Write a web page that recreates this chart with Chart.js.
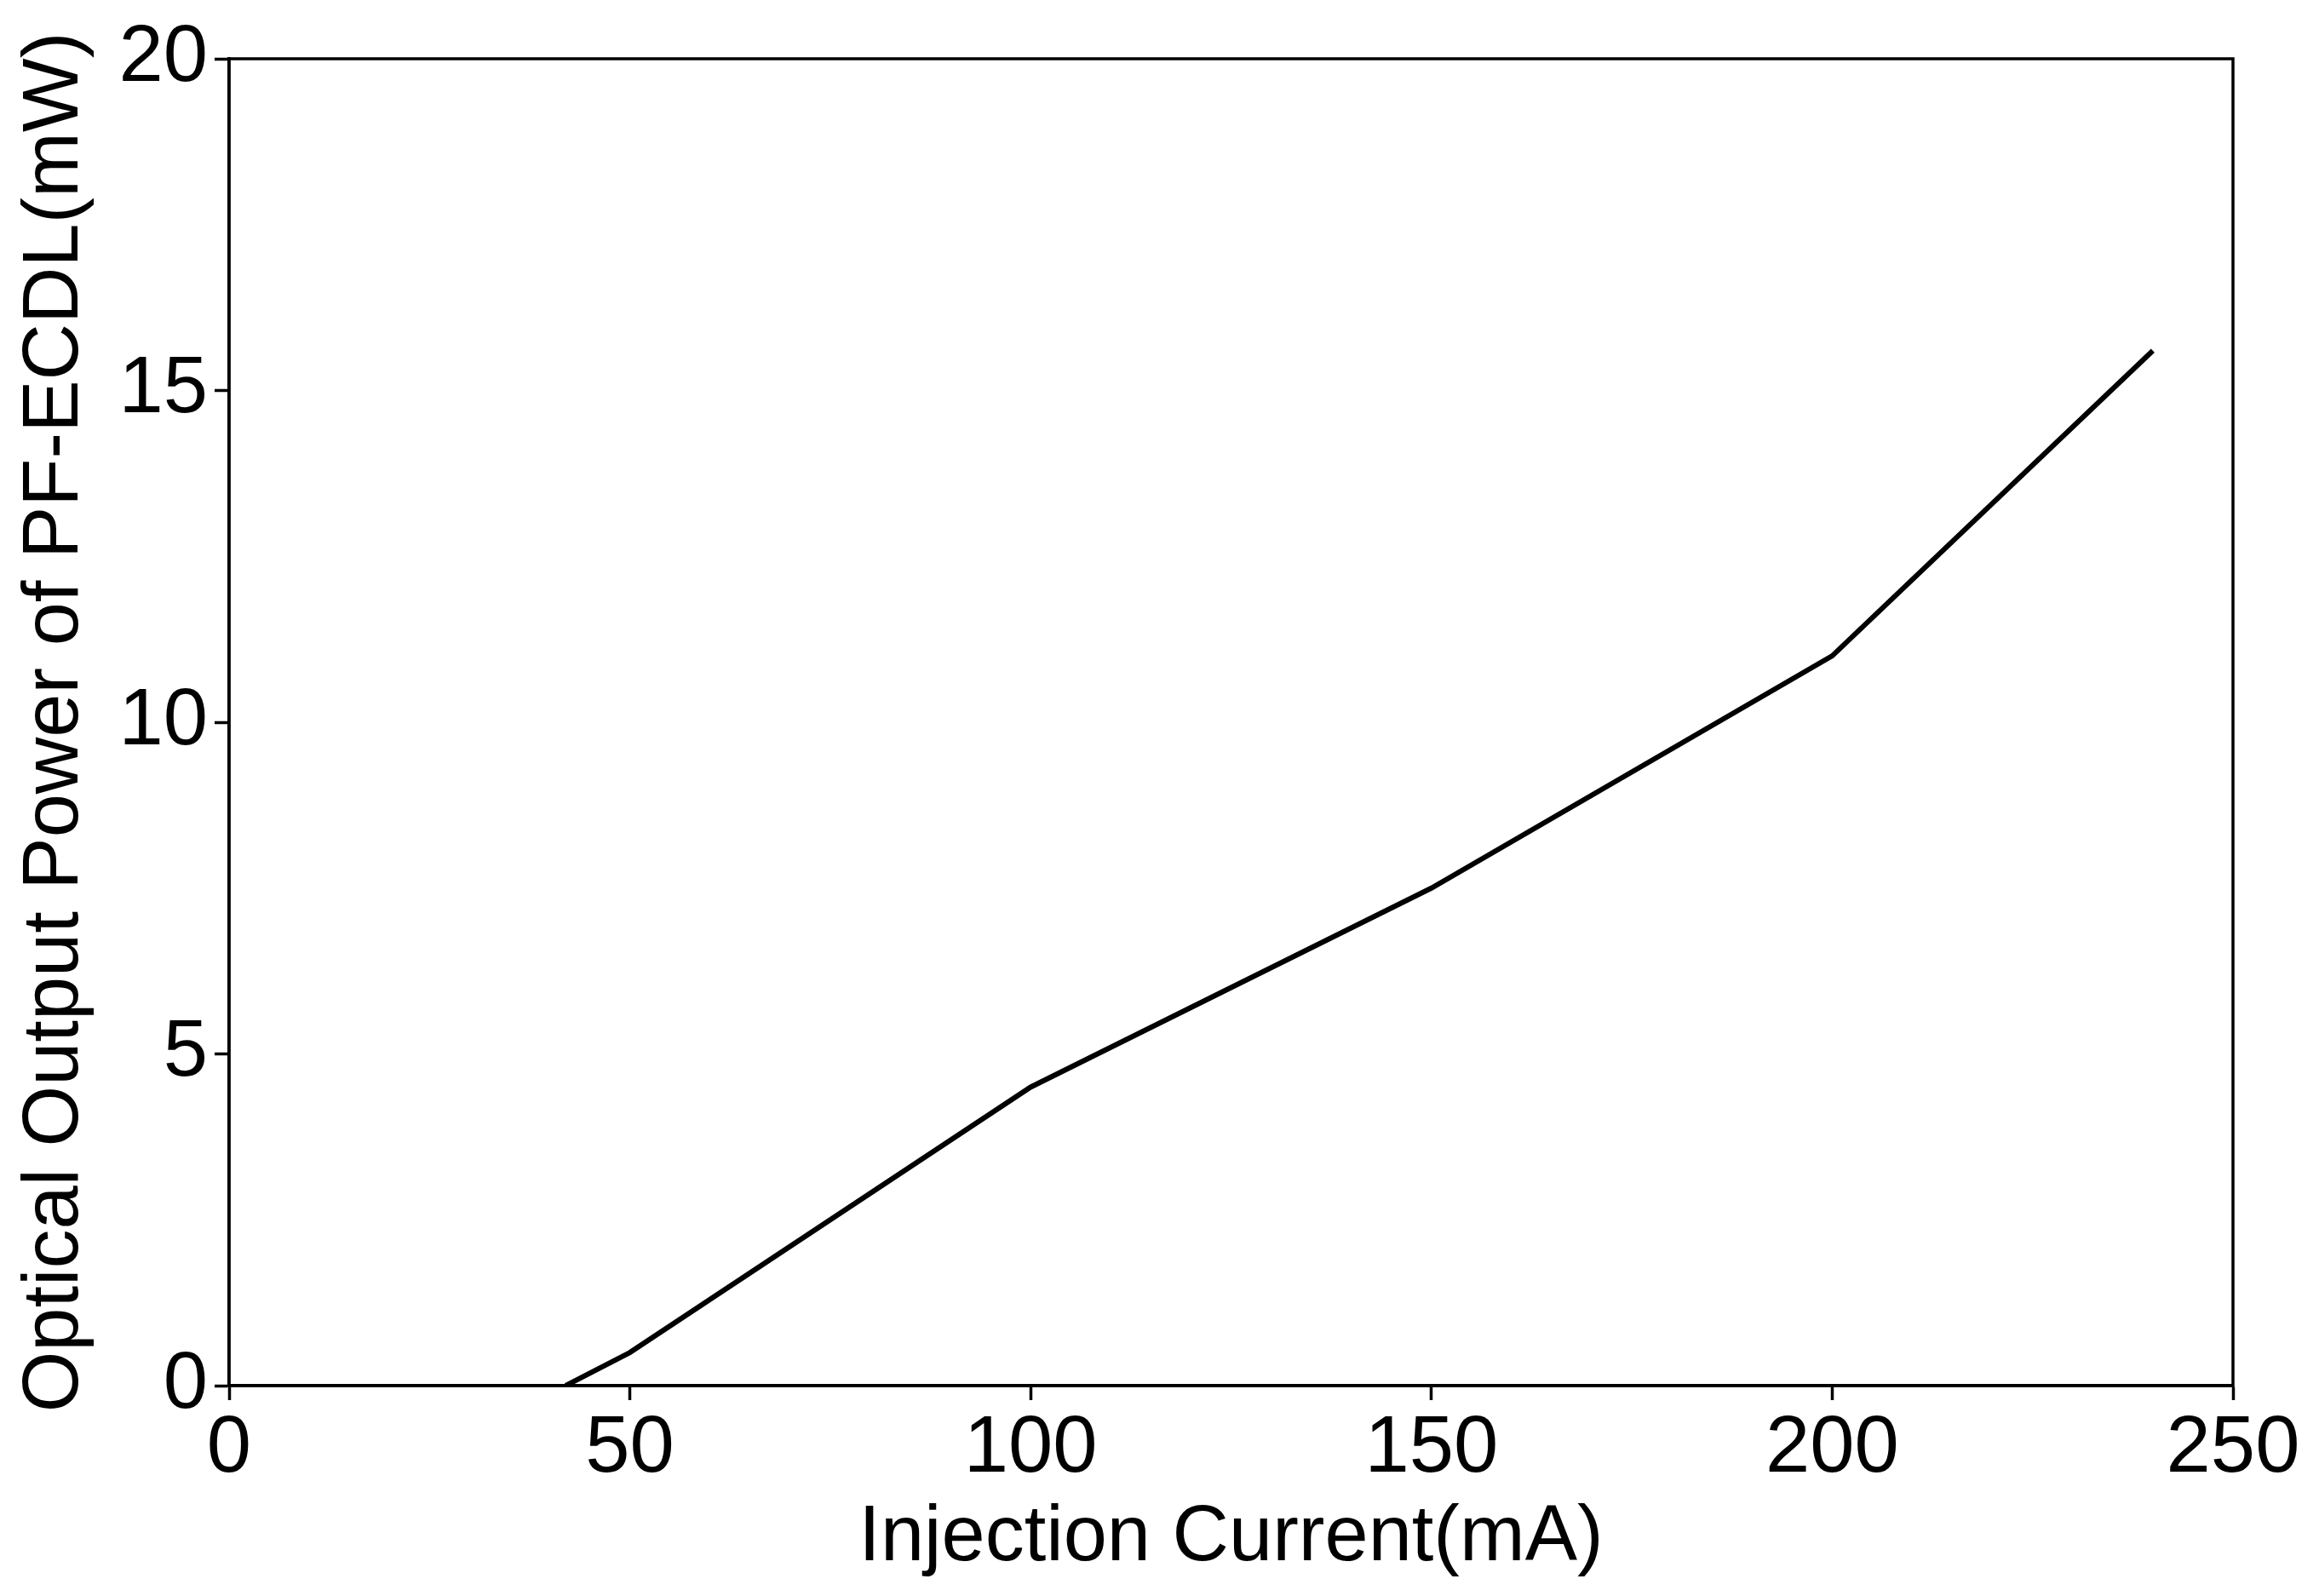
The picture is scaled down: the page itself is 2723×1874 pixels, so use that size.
<!DOCTYPE html>
<html><head><meta charset="utf-8">
<script src="https://cdn.jsdelivr.net/npm/chart.js@4"></script>
<style>html,body{margin:0;padding:0;background:#fff}#w{width:2723px;height:1874px}</style>
</head><body><div id="w"><canvas id="c"></canvas></div>
<script>
const currents=[42,50,100,150,200,240];
const powers=[0,0.5,4.5,7.5,11,15.6];
const xTicks=[0,50,100,150,200,250];
const yTicks=[0,5,10,15,20];
const F="'Liberation Sans', Arial, sans-serif";
const box={id:'box',afterDraw(ch){const a=ch.chartArea,c=ch.ctx;c.save();c.strokeStyle='#000';c.lineWidth=3.5;c.strokeRect(a.left,a.top,a.right-a.left,a.bottom-a.top);c.restore();}};
new Chart(document.getElementById('c'),{type:'line',
data:{datasets:[{data:currents.map((x,i)=>({x,y:powers[i]})),borderColor:'#000',borderWidth:6,pointRadius:0,fill:false,tension:0}]},
options:{responsive:true,maintainAspectRatio:false,animation:false,
layout:{padding:{left:0,top:69,right:101,bottom:0}},
plugins:{legend:{display:false},tooltip:{enabled:false}},
scales:{
x:{type:'linear',min:0,max:250,afterBuildTicks:s=>{s.ticks=xTicks.map(v=>({value:v}))},
 afterFit:s=>{s.height=247},
 grid:{drawOnChartArea:false,tickLength:17,tickColor:'#000',tickWidth:3.5},border:{color:'#000',width:3.5},
 ticks:{color:'#000',font:{family:F,size:94},padding:2,maxRotation:0},
 title:{display:true,text:'Injection Current(mA)',color:'#000',font:{family:F,size:92},padding:{top:0,bottom:12}}},
y:{min:0,max:20,afterBuildTicks:s=>{s.ticks=yTicks.map(v=>({value:v}))},
 afterFit:s=>{s.width=269},
 grid:{drawOnChartArea:false,tickLength:17,tickColor:'#000',tickWidth:3.5},border:{color:'#000',width:3.5},
 ticks:{color:'#000',font:{family:F,size:94},padding:8},
 title:{display:true,text:'Optical Output Power of PF-ECDL(mW)',color:'#000',font:{family:F,size:92},padding:{top:10,bottom:0}}}
}},plugins:[box]});
</script></body></html>
